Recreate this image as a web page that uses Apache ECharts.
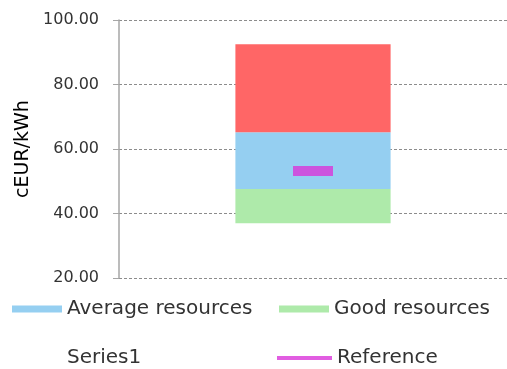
<!DOCTYPE html>
<html>
<head>
<meta charset="utf-8">
<style>
  html, body { margin: 0; padding: 0; background: #ffffff; }
  #chart { width: 507px; height: 369px; }
</style>
<script src="https://cdn.jsdelivr.net/npm/echarts@6/dist/echarts.min.js"></script>
</head>
<body>
<div id="chart"></div>
<script>
// Cost range of electricity generation, cEUR/kWh
const categories = [''];
const baseValues = [37.0];        // Series1: invisible offset that floats the bar
const goodValues = [10.6];        // Good resources
const averageValues = [17.6];     // Average resources
const poorValues = [27.3];        // upper band (not in legend)
const referenceValues = [53.2];   // Reference marker
const yTicks = { min: 20, max: 100, step: 20 };

const textColor = '#333333';
const fontFamily = 'DejaVu Sans';

const chart = echarts.init(document.getElementById('chart'), null, { renderer: 'canvas' });

function legendAt(name, left, top, icon, w, h) {
  return {
    data: [name],
    left: left,
    top: top,
    padding: 0,
    icon: icon,
    itemWidth: w,
    itemHeight: h,
    selectedMode: false,
    textStyle: { color: textColor, fontSize: 20, fontFamily: fontFamily }
  };
}

chart.setOption({
  animation: false,
  grid: { left: 119, right: 0, top: 20, bottom: 91, containLabel: false },
  legend: [
    legendAt('Average resources', 12, 299, 'rect', 50, 7),
    legendAt('Good resources', 279, 299, 'rect', 50, 7),
    legendAt('Series1', 12, 348, 'rect', 50, 7),
    legendAt('Reference', 277, 348, 'rect', 55, 4)
  ],
  xAxis: {
    type: 'category',
    data: categories,
    axisLine: { show: false },
    axisTick: { show: false },
    axisLabel: { show: false }
  },
  yAxis: {
    type: 'value',
    min: yTicks.min,
    max: yTicks.max,
    interval: yTicks.step,
    name: 'cEUR/kWh',
    nameLocation: 'middle',
    nameRotate: 90,
    nameGap: 86,
    nameTextStyle: { color: '#000000', fontSize: 19, fontFamily: fontFamily },
    axisLine: { show: true, lineStyle: { color: '#a6a6a6', width: 1.5 } },
    axisTick: { show: true, length: 6, lineStyle: { color: '#a6a6a6' } },
    axisLabel: {
      color: textColor,
      fontSize: 16,
      fontFamily: fontFamily,
      margin: 20,
      formatter: v => v.toFixed(2)
    },
    splitLine: { show: true, lineStyle: { color: '#8c8c8c', type: [3, 2], width: 1 } }
  },
  series: [
    {
      name: 'Series1', type: 'bar', stack: 'cost', barWidth: '40%',
      data: baseValues,
      itemStyle: { color: 'rgba(0,0,0,0)' }
    },
    {
      name: 'Good resources', type: 'bar', stack: 'cost',
      data: goodValues,
      itemStyle: { color: '#aeeaaa' }
    },
    {
      name: 'Average resources', type: 'bar', stack: 'cost',
      data: averageValues,
      itemStyle: { color: '#95cff1' }
    },
    {
      name: 'Poor resources', type: 'bar', stack: 'cost',
      data: poorValues,
      itemStyle: { color: '#ff6666' }
    },
    {
      name: 'Reference', type: 'scatter',
      data: referenceValues,
      symbol: 'rect',
      symbolSize: [40, 10],
      itemStyle: { color: '#d935d9' },
      z: 5
    }
  ]
});
</script>
</body>
</html>
